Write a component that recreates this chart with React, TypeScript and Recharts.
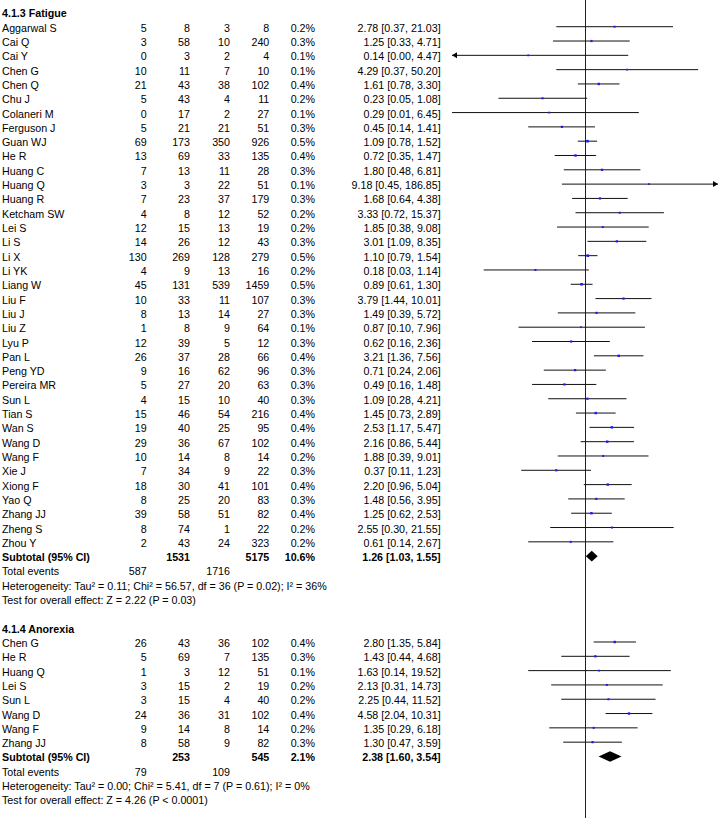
import {
  ErrorBar,
  ReferenceArea,
  ReferenceLine,
  Scatter,
  ScatterChart,
  XAxis,
  YAxis,
} from "recharts";

// 4.1.3 Fatigue
const fatigueStudies = [
  "Aggarwal S", "Cai Q", "Cai Y", "Chen G", "Chen Q", "Chu J", "Colaneri M",
  "Ferguson J", "Guan WJ", "He R", "Huang C", "Huang Q", "Huang R", "Ketcham SW",
  "Lei S", "Li S", "Li X", "Li YK", "Liang W", "Liu F", "Liu J", "Liu Z", "Lyu P",
  "Pan L", "Peng YD", "Pereira MR", "Sun L", "Tian S", "Wan S", "Wang D", "Wang F",
  "Xie J", "Xiong F", "Yao Q", "Zhang JJ", "Zheng S", "Zhou Y",
];
const fatigueEventsA = [5, 3, 0, 10, 21, 5, 0, 5, 69, 13, 7, 3, 7, 4, 12, 14, 130, 4, 45, 10, 8, 1, 12, 26, 9, 5, 4, 15, 19, 29, 10, 7, 18, 8, 39, 8, 2];
const fatigueTotalA = [8, 58, 3, 11, 43, 43, 17, 21, 173, 69, 13, 3, 23, 8, 15, 26, 269, 9, 131, 33, 13, 8, 39, 37, 16, 27, 15, 46, 40, 36, 14, 34, 30, 25, 58, 74, 43];
const fatigueEventsB = [3, 10, 2, 7, 38, 4, 2, 21, 350, 33, 11, 22, 37, 12, 13, 12, 128, 13, 539, 11, 14, 9, 5, 28, 62, 20, 10, 54, 25, 67, 8, 9, 41, 20, 51, 1, 24];
const fatigueTotalB = [8, 240, 4, 10, 102, 11, 27, 51, 926, 135, 28, 51, 179, 52, 19, 43, 279, 16, 1459, 107, 27, 64, 12, 66, 96, 63, 40, 216, 95, 102, 14, 22, 101, 83, 82, 22, 323];
const fatigueWeight = [0.2, 0.3, 0.1, 0.1, 0.4, 0.2, 0.1, 0.3, 0.5, 0.4, 0.3, 0.1, 0.3, 0.2, 0.2, 0.3, 0.5, 0.2, 0.5, 0.3, 0.3, 0.1, 0.3, 0.4, 0.3, 0.3, 0.3, 0.4, 0.4, 0.4, 0.2, 0.3, 0.4, 0.3, 0.4, 0.2, 0.2];
const fatigueRR = [2.78, 1.25, 0.14, 4.29, 1.61, 0.23, 0.29, 0.45, 1.09, 0.72, 1.8, 9.18, 1.68, 3.33, 1.85, 3.01, 1.1, 0.18, 0.89, 3.79, 1.49, 0.87, 0.62, 3.21, 0.71, 0.49, 1.09, 1.45, 2.53, 2.16, 1.88, 0.37, 2.2, 1.48, 1.25, 2.55, 0.61];
const fatigueLow = [0.37, 0.33, 0.0, 0.37, 0.78, 0.05, 0.01, 0.14, 0.78, 0.35, 0.48, 0.45, 0.64, 0.72, 0.38, 1.09, 0.79, 0.03, 0.61, 1.44, 0.39, 0.1, 0.16, 1.36, 0.24, 0.16, 0.28, 0.73, 1.17, 0.86, 0.39, 0.11, 0.96, 0.56, 0.62, 0.3, 0.14];
const fatigueHigh = [21.03, 4.71, 4.47, 50.2, 3.3, 1.08, 6.45, 1.41, 1.52, 1.47, 6.81, 186.85, 4.38, 15.37, 9.08, 8.35, 1.54, 1.14, 1.3, 10.01, 5.72, 7.96, 2.36, 7.56, 2.06, 1.48, 4.21, 2.89, 5.47, 5.44, 9.01, 1.23, 5.04, 3.95, 2.53, 21.55, 2.67];
const fatigueTotals = [1531, 5175];
const fatigueSubWeight = 10.6;
const fatiguePooled = [1.26, 1.03, 1.55];
const fatigueTotalEvents = [587, 1716];
const fatigueHeterogeneity = "Heterogeneity: Tau² = 0.11; Chi² = 56.57, df = 36 (P = 0.02); I² = 36%";
const fatigueOverall = "Test for overall effect: Z = 2.22 (P = 0.03)";

// 4.1.4 Anorexia
const anorexiaStudies = ["Chen G", "He R", "Huang Q", "Lei S", "Sun L", "Wang D", "Wang F", "Zhang JJ"];
const anorexiaEventsA = [26, 5, 1, 3, 3, 24, 9, 8];
const anorexiaTotalA = [43, 69, 3, 15, 15, 36, 14, 58];
const anorexiaEventsB = [36, 7, 12, 2, 4, 31, 8, 9];
const anorexiaTotalB = [102, 135, 51, 19, 40, 102, 14, 82];
const anorexiaWeight = [0.4, 0.3, 0.1, 0.2, 0.2, 0.4, 0.2, 0.3];
const anorexiaRR = [2.8, 1.43, 1.63, 2.13, 2.25, 4.58, 1.35, 1.3];
const anorexiaLow = [1.35, 0.44, 0.14, 0.31, 0.44, 2.04, 0.29, 0.47];
const anorexiaHigh = [5.84, 4.68, 19.52, 14.73, 11.52, 10.31, 6.18, 3.59];
const anorexiaTotals = [253, 545];
const anorexiaSubWeight = 2.1;
const anorexiaPooled = [2.38, 1.6, 3.54];
const anorexiaTotalEvents = [79, 109];
const anorexiaHeterogeneity = "Heterogeneity: Tau² = 0.00; Chi² = 5.41, df = 7 (P = 0.61); I² = 0%";
const anorexiaOverall = "Test for overall effect: Z = 4.26 (P < 0.0001)";

const X_MIN = 0.01;
const X_MAX = 100;
const FONT = "'Liberation Sans', Arial, sans-serif";
const FS = 10.7;

type TextRow = {
  x: number;
  y: number;
  kind: "heading" | "study" | "subtotal" | "events" | "note";
  cells: string[];
};

const ci = (rr: number, lo: number, hi: number) =>
  `${rr.toFixed(2)} [${lo.toFixed(2)}, ${hi.toFixed(2)}]`;

const textRows: TextRow[] = [];
const points: any[] = [];
const arrows: any[] = [];
const diamonds: { row: number; rr: number; lo: number; hi: number }[] = [];

function addGroup(
  start: number,
  heading: string,
  names: string[],
  eA: number[],
  nA: number[],
  eB: number[],
  nB: number[],
  w: number[],
  rr: number[],
  lo: number[],
  hi: number[],
  totals: number[],
  subWeight: number,
  pooled: number[],
  events: number[],
  het: string,
  overall: string
) {
  textRows.push({ x: 1, y: start, kind: "heading", cells: [heading] });
  names.forEach((name, i) => {
    const row = start + 1 + i;
    textRows.push({
      x: 1,
      y: row,
      kind: "study",
      cells: [name, String(eA[i]), String(nA[i]), String(eB[i]), String(nB[i]), `${w[i].toFixed(1)}%`, ci(rr[i], lo[i], hi[i])],
    });
    const l = Math.max(lo[i], X_MIN);
    const h = Math.min(hi[i], X_MAX);
    points.push({ x: rr[i], y: row, w: w[i], err: [rr[i] - l, h - rr[i]] });
    if (lo[i] < X_MIN) arrows.push({ x: X_MIN, y: row, dir: -1 });
    if (hi[i] > X_MAX) arrows.push({ x: X_MAX, y: row, dir: 1 });
  });
  const sub = start + 1 + names.length;
  textRows.push({
    x: 1,
    y: sub,
    kind: "subtotal",
    cells: ["Subtotal (95% CI)", "", String(totals[0]), "", String(totals[1]), `${subWeight.toFixed(1)}%`, ci(pooled[0], pooled[1], pooled[2])],
  });
  diamonds.push({ row: sub, rr: pooled[0], lo: pooled[1], hi: pooled[2] });
  textRows.push({ x: 1, y: sub + 1, kind: "events", cells: ["Total events", String(events[0]), "", String(events[1])] });
  textRows.push({ x: 1, y: sub + 2, kind: "note", cells: [het] });
  textRows.push({ x: 1, y: sub + 3, kind: "note", cells: [overall] });
  return sub + 5;
}

const next = addGroup(0, "4.1.3 Fatigue", fatigueStudies, fatigueEventsA, fatigueTotalA, fatigueEventsB, fatigueTotalB,
  fatigueWeight, fatigueRR, fatigueLow, fatigueHigh, fatigueTotals, fatigueSubWeight, fatiguePooled, fatigueTotalEvents,
  fatigueHeterogeneity, fatigueOverall);
addGroup(next, "4.1.4 Anorexia", anorexiaStudies, anorexiaEventsA, anorexiaTotalA, anorexiaEventsB, anorexiaTotalB,
  anorexiaWeight, anorexiaRR, anorexiaLow, anorexiaHigh, anorexiaTotals, anorexiaSubWeight, anorexiaPooled, anorexiaTotalEvents,
  anorexiaHeterogeneity, anorexiaOverall);

// right edges of the numeric columns
const colRight = [0, 146.7, 190, 230, 269.3, 315, 440.7];

function RowText(props: any) {
  const { cy, payload } = props;
  const r = payload as TextRow;
  const base = cy + 5;
  const bold = r.kind === "heading" || r.kind === "subtotal";
  const common = { fontFamily: FONT, fontSize: FS, fill: "#000", fontWeight: bold ? 700 : 400 } as const;
  if (r.kind === "heading" || r.kind === "note") {
    return <text x={2} y={base} {...common}>{r.cells[0]}</text>;
  }
  return (
    <g>
      {r.cells.map((c, i) =>
        c === "" ? null : i === 0 ? (
          <text key={i} x={2} y={base} {...common} fontWeight={bold ? 700 : 400}>{c}</text>
        ) : (
          <text key={i} x={colRight[i]} y={base} textAnchor="end" {...common}>{c}</text>
        )
      )}
    </g>
  );
}

function Square(props: any) {
  const { cx, cy, payload } = props;
  const s = 1.6 + payload.w * 2;
  return <rect x={cx - s / 2} y={cy - s / 2} width={s} height={s} fill="#1a1aff" />;
}

function Arrow(props: any) {
  const { cx, cy, payload } = props;
  const d = payload.dir;
  const pts = `${cx},${cy} ${cx - d * 5},${cy - 3} ${cx - d * 5},${cy + 3}`;
  return <polygon points={pts} fill="#000" />;
}

function Diamond(props: any) {
  const { x, y, width, height } = props;
  const mx = x + width / 2;
  const my = y + height / 2;
  const pts = `${x},${my} ${mx},${y} ${x + width},${my} ${mx},${y + height}`;
  return <polygon points={pts} fill="#000" />;
}

function NullLine(props: any) {
  const { x1, y1, x2, y2 } = props;
  return <line x1={x1 + 0.5} y1={y1} x2={x2 + 0.5} y2={y2} stroke="#222" strokeWidth={1} />;
}

export default function App() {
  return (
    <div style={{ position: "absolute", left: 0, top: 0, width: 721, height: 818, background: "#fff" }}>
      <ScatterChart width={721} height={818} margin={{ top: 0, right: 3, bottom: 0, left: 452 }}>
        <XAxis type="number" dataKey="x" scale="log" domain={[X_MIN, X_MAX]} hide />
        <YAxis type="number" dataKey="y" domain={[-0.867, 56.3]} reversed hide />
        <ReferenceLine x={1} shape={NullLine} />
        {diamonds.map((d) => (
          <ReferenceArea
            key={d.row}
            x1={d.lo}
            x2={d.hi}
            y1={d.row - 0.37}
            y2={d.row + 0.37}
            shape={Diamond}
          />
        ))}
        <Scatter data={points} shape={Square} isAnimationActive={false}>
          <ErrorBar dataKey="err" direction="x" width={0} stroke="#111" strokeWidth={1} isAnimationActive={false} />
        </Scatter>
        <Scatter data={arrows} shape={Arrow} isAnimationActive={false} />
        <Scatter data={textRows} shape={RowText} isAnimationActive={false} />
      </ScatterChart>
    </div>
  );
}
